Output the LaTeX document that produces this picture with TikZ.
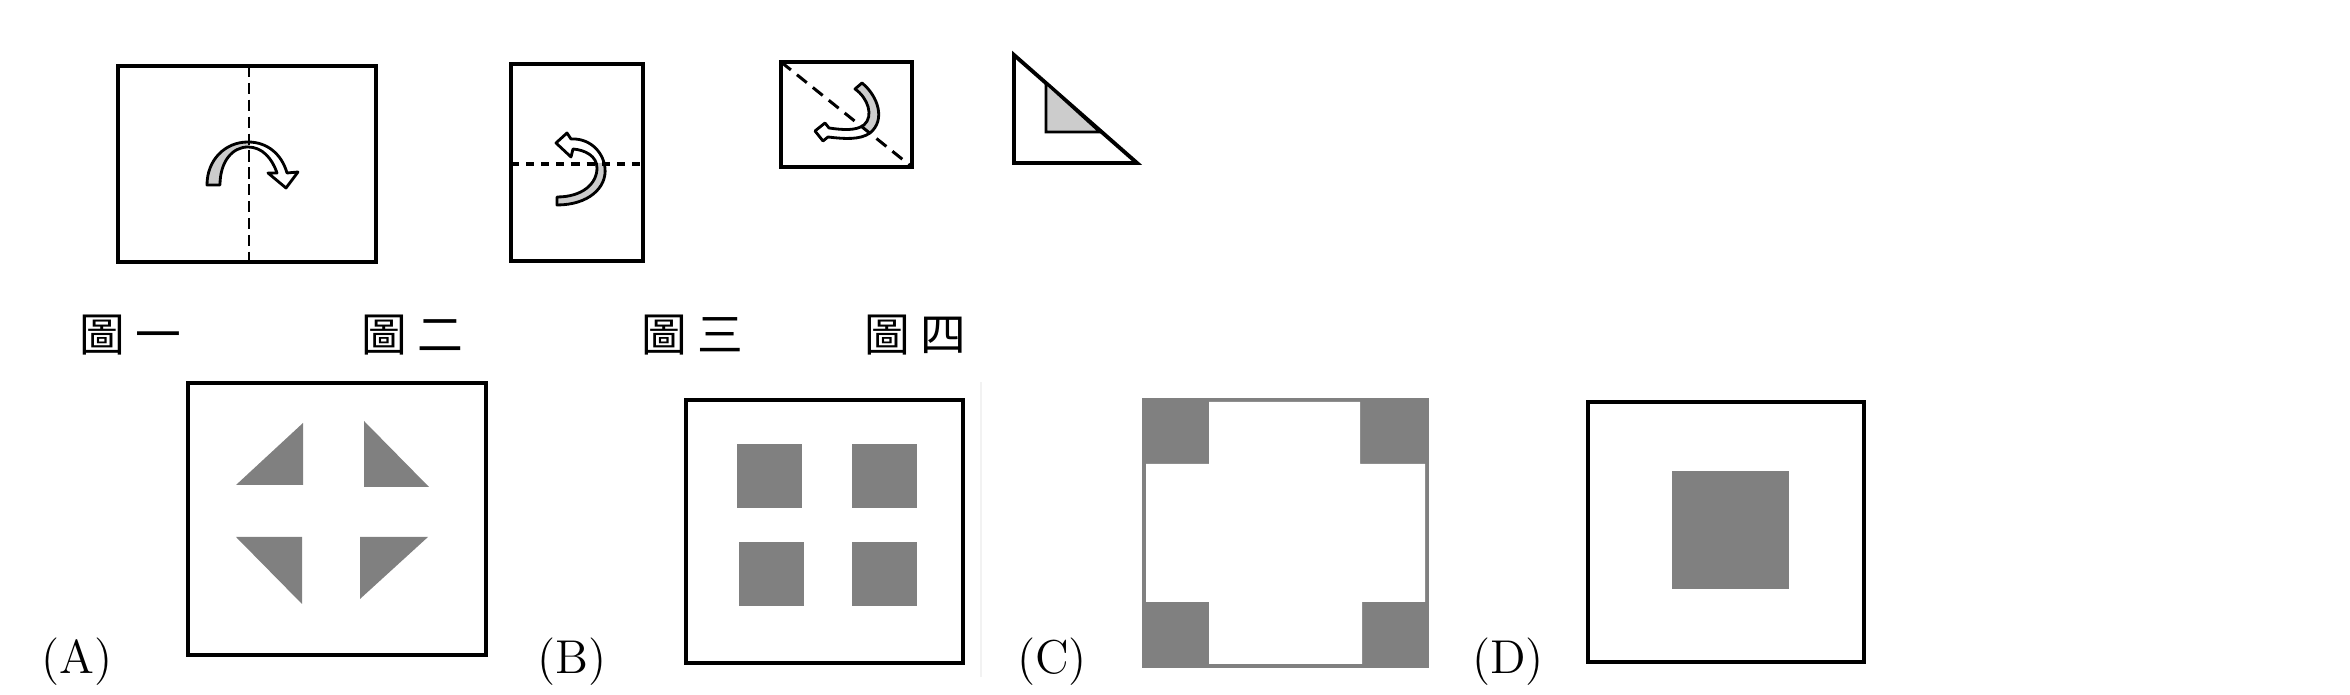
\documentclass[tikz,border=0pt]{standalone}
\usepackage{fontspec}
\usepackage{tikz}
\newfontfamily\cjkfont{Noto Sans CJK TC}

\begin{document}
\begin{tikzpicture}[x=0.01cm, y=-0.01cm]
        \tikzstyle Frame Line=[line width=0.95pt, color=black]
        \tikzstyle Fold Line=[line width=0.85pt, dash pattern=on 3.2pt off 1.6pt]
        \tikzstyle Fold Edge=[line width=0.8pt, line join=round]
        \tikzstyle Fold Back=[fill=gray!40]
        \tikzstyle Hole=[fill=gray]
        \tikzstyle Step Label=[inner sep=0pt, font=\cjkfont\fontsize{13}{13}\selectfont]
        \tikzstyle Choice Label=[inner sep=0pt, font=\fontsize{13.5}{13.5}\selectfont]

        \useasboundingbox (0, 0) rectangle (2350, 695);

        % fig 1
        \draw[Frame Line] (118, 66) rectangle (376, 262);
        \path[save path=\foldOne] (207, 185) .. controls (207, 160) and (225, 142) .. (248, 142)
            .. controls (268, 142) and (282, 155) .. (287, 173) -- (298, 172) -- (286, 188) -- (268, 173) -- (277, 173)
            .. controls (272, 158) and (262, 147) .. (248, 147) .. controls (232, 147) and (220, 162) .. (220, 185) -- cycle;
        \fill[white, use path=\foldOne];
        \begin{scope}
            \clip (150, 120) rectangle (249, 200);
            \fill[Fold Back, use path=\foldOne];
        \end{scope}
        \draw[Fold Edge, use path=\foldOne];
        \draw[Fold Line] (249, 66) -- (249, 262);

        % fig 2
        \draw[Frame Line] (511, 64) rectangle (643, 261);
        \path[save path=\foldTwo] (557, 205) .. controls (588, 205) and (607, 188) .. (605, 168)
            .. controls (603, 150) and (588, 138) .. (571, 139) -- (567, 133) -- (556, 143) -- (571, 157) -- (573, 149)
            .. controls (585, 150) and (597, 156) .. (597, 168) .. controls (597, 184) and (582, 197) .. (557, 197) -- cycle;
        \fill[white, use path=\foldTwo];
        \begin{scope}
            \clip (540, 164) rectangle (620, 215);
            \fill[Fold Back, use path=\foldTwo];
        \end{scope}
        \draw[Fold Edge, use path=\foldTwo];
        \draw[Fold Line, line width=1.1pt, dash pattern=on 2.3pt off 2pt] (511, 164) -- (643, 164);

        % fig 3
        \draw[Frame Line] (781, 62) rectangle (912, 167);
        \path[save path=\foldThree] (862, 83) .. controls (878, 96) and (886, 120) .. (870, 133)
            .. controls (860, 140) and (845, 139) .. (828, 137) -- (823, 141) -- (815, 131) -- (825, 123) -- (829, 128)
            .. controls (843, 130) and (856, 131) .. (864, 125) .. controls (874, 116) and (868, 98) .. (855, 89) -- cycle;
        \fill[white, use path=\foldThree];
        \begin{scope}
            \clip (770, 53.2) -- (925, 177.4) -- (925, 40) -- (770, 40) -- cycle;
            \fill[Fold Back, use path=\foldThree];
        \end{scope}
        \draw[Fold Edge, use path=\foldThree];
        \draw[Fold Line, dash pattern=on 3.6pt off 2.2pt] (781, 62) -- (912, 167);

        % fig 4
        \draw[Frame Line, line width=1.1pt] (1014, 55) -- (1014, 163) -- (1137, 163) -- cycle;
        \filldraw[Fold Back, line width=0.8pt] (1046, 83) -- (1046, 132) -- (1100, 132) -- cycle;

        \node[Step Label] (figOne) at (130, 335) {圖\hspace{3pt}一};
        \node[Step Label] (figTwo) at (412, 335) {圖\hspace{3pt}二};
        \node[Step Label] (figThree) at (692, 335) {圖\hspace{3pt}三};
        \node[Step Label] (figFour) at (915, 335) {圖\hspace{3pt}四};

        % (A)
        \draw[Frame Line] (188, 383) rectangle (486, 655);
        \fill[Hole] (236, 485) -- (303, 423) -- (303, 485) -- cycle;
        \fill[Hole] (364, 421) -- (364, 487) -- (429, 487) -- cycle;
        \fill[Hole] (236, 537) -- (302, 537) -- (302, 604) -- cycle;
        \fill[Hole] (360, 537) -- (428, 537) -- (360, 599) -- cycle;
        \node[Choice Label] (optA) at (77, 662) {(A)};

        % (B)
        \draw[Frame Line] (686, 400) rectangle (963, 663);
        \fill[Hole] (737, 444) rectangle (802, 508);
        \fill[Hole] (852, 444) rectangle (917, 508);
        \fill[Hole] (739, 542) rectangle (804, 606);
        \fill[Hole] (852, 542) rectangle (917, 606);
        \draw[gray!10, line width=0.6pt] (981, 382) -- (981, 677);
        \node[Choice Label] (optB) at (572, 662) {(B)};

        % (C)
        \fill[Hole] (1142, 398) rectangle (1429, 668);
        \fill[white] (1209, 402) -- (1360, 402) -- (1360, 464) -- (1425, 464) -- (1425, 602) -- (1362, 602)
            -- (1362, 664) -- (1209, 664) -- (1209, 602) -- (1146, 602) -- (1146, 464) -- (1209, 464) -- cycle;
        \node[Choice Label] (optC) at (1052, 662) {(C)};

        % (D)
        \draw[Frame Line] (1588, 402) rectangle (1864, 662);
        \fill[Hole] (1672, 471) rectangle (1789, 589);
        \node[Choice Label] (optD) at (1508, 662) {(D)};
    \end{tikzpicture}
\end{document}
